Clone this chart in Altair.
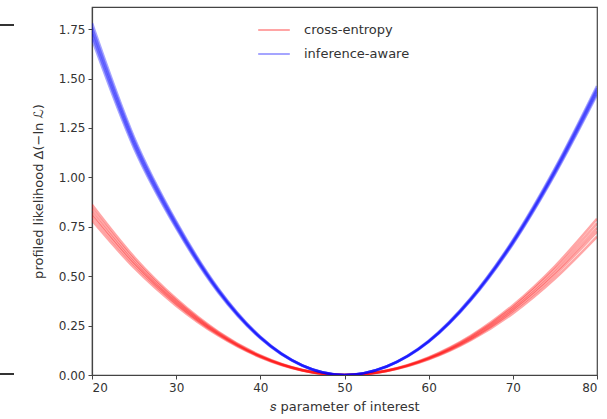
import altair as alt
import pandas as pd

s_grid = [20, 25, 30, 35, 40, 45, 50, 55, 60, 65, 70, 75, 80]

# cross-entropy runs
ce_1 = [0.783, 0.543, 0.351, 0.200, 0.090, 0.023, 0.0, 0.020, 0.079, 0.176, 0.312, 0.488, 0.700]
ce_2 = [0.804, 0.558, 0.361, 0.205, 0.092, 0.0235, 0.0, 0.0205, 0.082, 0.182, 0.324, 0.506, 0.726]
ce_3 = [0.820, 0.569, 0.368, 0.209, 0.094, 0.024, 0.0, 0.021, 0.084, 0.187, 0.332, 0.519, 0.745]
ce_4 = [0.841, 0.583, 0.377, 0.214, 0.096, 0.0246, 0.0, 0.0216, 0.0865, 0.193, 0.342, 0.535, 0.767]
ce_5 = [0.861, 0.597, 0.386, 0.219, 0.099, 0.0252, 0.0, 0.0223, 0.089, 0.198, 0.352, 0.550, 0.790]

# inference-aware runs
ia_1 = [1.700, 1.148, 0.743, 0.418, 0.186, 0.047, 0.0, 0.042, 0.167, 0.377, 0.662, 1.015, 1.418]
ia_2 = [1.723, 1.163, 0.752, 0.424, 0.188, 0.0475, 0.0, 0.0427, 0.169, 0.380, 0.667, 1.023, 1.430]
ia_3 = [1.740, 1.175, 0.760, 0.428, 0.190, 0.048, 0.0, 0.043, 0.170, 0.383, 0.672, 1.030, 1.440]
ia_4 = [1.757, 1.187, 0.768, 0.432, 0.192, 0.0485, 0.0, 0.0433, 0.171, 0.386, 0.677, 1.037, 1.450]
ia_5 = [1.780, 1.202, 0.777, 0.438, 0.194, 0.049, 0.0, 0.0436, 0.173, 0.389, 0.682, 1.045, 1.462]

methods = ["cross-entropy", "inference-aware"]
colors = ["#ff0000", "#0000ff"]
x_ticks = [20, 30, 40, 50, 60, 70, 80]
y_ticks = [0.0, 0.25, 0.5, 0.75, 1.0, 1.25, 1.5, 1.75]

rows = []
for name, runs in [(methods[0], [ce_1, ce_2, ce_3, ce_4, ce_5]),
                   (methods[1], [ia_1, ia_2, ia_3, ia_4, ia_5])]:
    for k, vals in enumerate(runs):
        for s, v in zip(s_grid, vals):
            rows.append({"s": s, "nll": v, "method": name, "run": f"{name}-{k}"})
df = pd.DataFrame(rows)

FONT = "DejaVu Sans"

lines = alt.Chart(df).mark_line(
    interpolate="monotone", strokeWidth=2.6, opacity=0.35, clip=True
).encode(
    x=alt.X("s:Q", scale=alt.Scale(domain=[20, 80], nice=False),
            axis=alt.Axis(values=x_ticks, title="𝑠 parameter of interest", format="d")),
    y=alt.Y("nll:Q", scale=alt.Scale(domain=[0, 1.862], nice=False),
            axis=alt.Axis(values=y_ticks, format=".2f",
                          title="profiled likelihood Δ(−ln ℒ)")),
    color=alt.Color("method:N",
                    scale=alt.Scale(domain=methods, range=colors),
                    legend=alt.Legend(title=None, orient="none", legendX=165, legendY=6,
                                      symbolType="stroke", symbolSize=1000,
                                      symbolStrokeWidth=2, symbolOpacity=0.35,
                                      labelFontSize=13, labelColor="#333333",
                                      labelFont=FONT, labelOffset=13,
                                      rowPadding=-8, padding=0)),
    detail="run:N",
)

# stray edge marks from the neighbouring panel in the source figure
edge = pd.DataFrame({"k": [0]})
edge_top = alt.Chart(edge).mark_rule(color="#333333", strokeWidth=2).encode(
    x=alt.value(-92), x2=alt.value(-78), y=alt.value(18))
edge_bot = alt.Chart(edge).mark_rule(color="#333333", strokeWidth=2).encode(
    x=alt.value(-92), x2=alt.value(-78), y=alt.value(367))

chart = alt.layer(lines, edge_top, edge_bot).properties(
    width=505, height=368,
    autosize=alt.AutoSizeParams(type="none"),
    padding={"left": 92, "top": 7, "right": 10, "bottom": 44},
).configure_view(
    stroke="#444444", strokeWidth=1.2
).configure_axis(
    domainColor="#444444", domainWidth=1.2, tickColor="#444444", tickSize=4,
    labelColor="#333333", titleColor="#333333", labelFontSize=12, titleFontSize=13,
    labelFont=FONT, titleFont=FONT, grid=False, titleFontWeight="normal",
    labelPadding=3
).configure_axisX(titlePadding=7).configure_axisY(titlePadding=13)

chart.save("out.html", embed_options={"renderer": "svg", "actions": False})
